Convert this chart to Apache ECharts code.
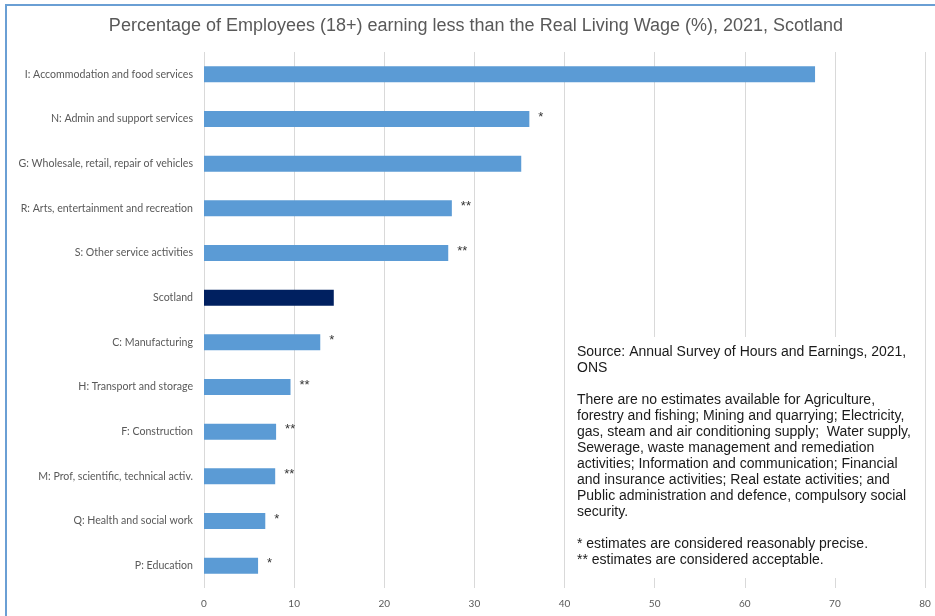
<!DOCTYPE html>
<html>
<head>
<meta charset="utf-8">
<script src="https://cdn.jsdelivr.net/npm/echarts@6/dist/echarts.min.js"></script>
<style>
html,body{margin:0;padding:0;background:#fff;}
#chart{width:935px;height:616px;}
</style>
</head>
<body>
<div id="chart"></div>
<script>
// Categories listed bottom-to-top (category axis starts at bottom)
var categories = [
  'P: Education',
  'Q: Health and social work',
  'M: Prof, scientific, technical activ.',
  'F: Construction',
  'H: Transport and storage',
  'C: Manufacturing',
  'Scotland',
  'S: Other service activities',
  'R: Arts, entertainment and recreation',
  'G: Wholesale, retail, repair of vehicles',
  'N: Admin and support services',
  'I: Accommodation and food services'
];
var values = [6.0, 6.8, 7.9, 8.0, 9.6, 12.9, 14.4, 27.1, 27.5, 35.2, 36.1, 67.8];
var notes = ['*', '*', '**', '**', '**', '*', '', '**', '**', '', '*', ''];
var xTicks = [0, 10, 20, 30, 40, 50, 60, 70, 80];
var titleText = 'Percentage of Employees (18+) earning less than the Real Living Wage (%), 2021, Scotland';
var noteLines = [
  'Source: Annual Survey of Hours and Earnings, 2021,',
  'ONS',
  '',
  'There are no estimates available for Agriculture,',
  'forestry and fishing; Mining and quarrying; Electricity,',
  'gas, steam and air conditioning supply;  Water supply,',
  'Sewerage, waste management and remediation',
  'activities; Information and communication; Financial',
  'and insurance activities; Real estate activities; and',
  'Public administration and defence, compulsory social',
  'security.',
  '',
  '* estimates are considered reasonably precise.',
  '** estimates are considered acceptable.'
];

var chart = echarts.init(document.getElementById('chart'), null, {renderer: 'canvas'});
var option = {
  animation: false,
  backgroundColor: '#ffffff',
  grid: {left: 204, right: 10, top: 52, bottom: 28, containLabel: false},
  xAxis: {
    type: 'value',
    min: xTicks[0],
    max: xTicks[xTicks.length - 1],
    interval: 10,
    axisLine: {show: false},
    axisTick: {show: false},
    splitLine: {show: true, lineStyle: {color: '#d9d9d9', width: 1}},
    axisLabel: {
      color: '#595959',
      fontSize: 10,
      fontFamily: 'Lato, Open Sans, sans-serif',
      margin: 11
    }
  },
  yAxis: {
    type: 'category',
    data: categories,
    axisLine: {show: false},
    axisTick: {show: false},
    splitLine: {show: false},
    axisLabel: {
      color: '#595959',
      fontSize: 10.6,
      fontFamily: 'Lato, Open Sans, sans-serif',
      margin: 11
    }
  },
  series: [{
    type: 'bar',
    data: values.map(function (v, i) {
      return {
        value: v,
        itemStyle: {color: categories[i] === 'Scotland' ? '#002060' : '#5b9bd5'},
        label: {
          show: notes[i] !== '',
          formatter: notes[i],
          position: 'right',
          distance: 9,
          color: '#333333',
          fontSize: 13,
          fontFamily: 'Liberation Sans, Arial, sans-serif',
          offset: [0, -2]
        }
      };
    }),
    barWidth: 16
  }],
  graphic: [
    {
      type: 'text',
      x: 476,
      y: 17,
      style: {
        text: titleText,
        textAlign: 'center',
        fill: '#595959',
        fontSize: 18,
        fontFamily: 'Liberation Sans, Arial, sans-serif'
      },
      z: 60
    },
    {
      type: 'rect',
      shape: {x: 6, y: 5, width: 940, height: 620},
      style: {fill: 'none', stroke: '#6a9fd4', lineWidth: 2},
      z: 100
    },
    {
      type: 'rect',
      shape: {x: 568, y: 337, width: 354, height: 241},
      style: {fill: '#ffffff', stroke: 'none'},
      z: 50
    },
    {
      type: 'text',
      left: 577,
      top: 344,
      style: {
        text: noteLines.join('\n'),
        fill: '#1a1a1a',
        fontSize: 14,
        lineHeight: 16,
        fontFamily: 'Liberation Sans, Arial, sans-serif'
      },
      z: 51
    }
  ]
};
chart.setOption(option);
</script>
</body>
</html>
